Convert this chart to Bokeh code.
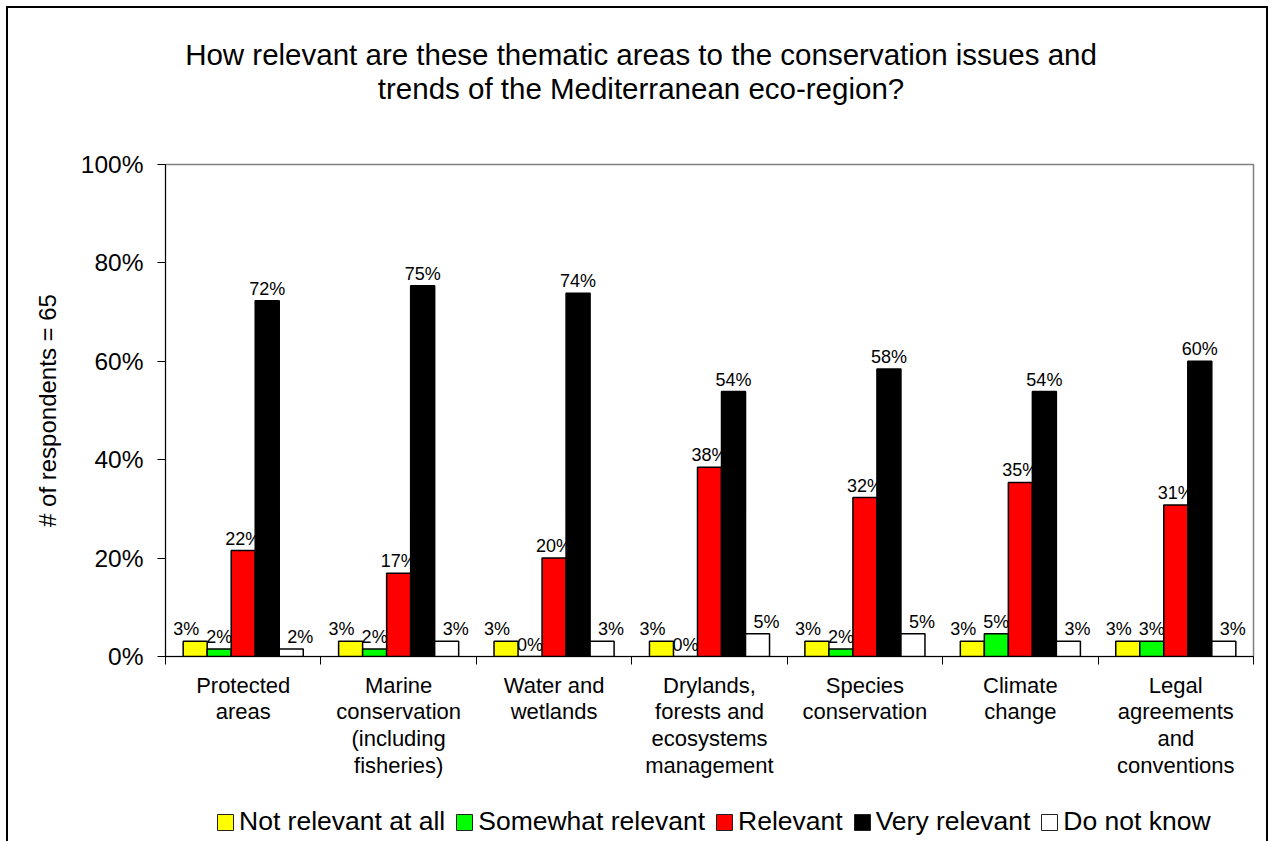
from bokeh.plotting import figure
from bokeh.models import (Range1d, ColumnDataSource, FixedTicker, Legend, LegendItem, Div)
from bokeh.layouts import column
from bokeh.transform import dodge
from bokeh.core.properties import value
from bokeh.embed import file_html
from bokeh.resources import INLINE

# ---------------- data ----------------
categories = [
    "Protected\nareas",
    "Marine\nconservation\n(including\nfisheries)",
    "Water and\nwetlands",
    "Drylands,\nforests and\necosystems\nmanagement",
    "Species\nconservation",
    "Climate\nchange",
    "Legal\nagreements\nand\nconventions",
]
series_names = ["Not relevant at all", "Somewhat relevant", "Relevant",
                "Very relevant", "Do not know"]
not_relevant = [3.08, 3.08, 3.08, 3.08, 3.08, 3.08, 3.08]
somewhat_relevant = [1.54, 1.54, 0.0, 0.0, 1.54, 4.62, 3.08]
relevant = [21.54, 16.92, 20.00, 38.46, 32.31, 35.38, 30.77]
very_relevant = [72.31, 75.38, 73.85, 53.85, 58.46, 53.85, 60.00]
do_not_know = [1.54, 3.08, 3.08, 4.62, 4.62, 3.08, 3.08]

y_ticks = [0, 20, 40, 60, 80, 100]
y_tick_labels = ["0%", "20%", "40%", "60%", "80%", "100%"]
title_lines = ["How relevant are these thematic areas to the conservation issues and",
               "trends of the Mediterranean eco-region?"]
y_axis_title = "# of respondents = 65"

# ---------------- styles ----------------
colors = ["#FFFF00", "#00FF00", "#FF0000", "#000000", "#FFFFFF"]
label_dx = [-9, 0, 0, 0, 9]
bar_w = 0.1545
FONT = "Liberation Sans"
W = 1258
TITLE_H = 130
MAIN_H = 26 + 492 + 130
LEG_H = 833 - TITLE_H - MAIN_H

n_cat = len(categories)
centers = [i + 0.5 for i in range(n_cat)]       # slot centre of each category
bounds = list(range(n_cat + 1))                  # slot boundaries (tick marks)

series = [not_relevant, somewhat_relevant, relevant, very_relevant, do_not_know]
data = {"xc": centers}
for i, vals in enumerate(series):
    data[f"s{i}"] = vals
    data[f"l{i}"] = ["%d%%" % round(v) for v in vals]
src = ColumnDataSource(data)

p = figure(width=W, height=MAIN_H,
           x_range=Range1d(0, n_cat), y_range=Range1d(0, 100),
           output_backend="svg", toolbar_location=None,
           min_border_left=157, min_border_right=13,
           min_border_top=26, min_border_bottom=130,
           background_fill_color="white", border_fill_color="white")
p.outline_line_color = "#808080"
p.outline_line_width = 1.5
p.xgrid.grid_line_color = None
p.ygrid.grid_line_color = None

# y axis
ya = p.yaxis[0]
ya.ticker = FixedTicker(ticks=y_ticks)
ya.major_label_overrides = {t: l for t, l in zip(y_ticks, y_tick_labels)}
ya.major_tick_out = 8
ya.major_tick_in = 0
ya.minor_tick_line_color = None
ya.axis_line_color = "black"
ya.major_tick_line_color = "black"
ya.major_label_text_font = FONT
ya.major_label_text_font_size = "24.5px"
ya.major_label_text_color = "black"
ya.major_label_standoff = 14
ya.axis_label = y_axis_title
ya.axis_label_text_font = FONT
ya.axis_label_text_font_size = "24px"
ya.axis_label_text_font_style = "normal"
ya.axis_label_text_color = "black"
ya.axis_label_standoff = 17

# x axis: names at slot centres, tick marks (minor ticks) at slot boundaries
xa = p.xaxis[0]
xa.ticker = FixedTicker(ticks=centers, minor_ticks=bounds)
xa.major_label_overrides = {c: name for c, name in zip(centers, categories)}
xa.major_tick_line_color = None
xa.major_tick_out = 0
xa.major_tick_in = 0
xa.minor_tick_out = 8
xa.minor_tick_in = 0
xa.minor_tick_line_color = "black"
xa.axis_line_color = "black"
xa.major_label_standoff = 8
xa.major_label_text_font = FONT
xa.major_label_text_font_size = "22px"
xa.major_label_text_line_height = 1.07
xa.major_label_text_color = "black"

# bars and labels
renderers = []
for i in range(len(series)):
    off = (i - 2) * bar_w
    r = p.vbar(x=dodge("xc", off), top=f"s{i}", width=bar_w,
               source=src, fill_color=colors[i], line_color="black", line_width=1.5)
    renderers.append(r)
    p.text(x=dodge("xc", off), y=f"s{i}", text=f"l{i}", source=src,
           text_align="center", text_baseline="alphabetic",
           x_offset=label_dx[i], y_offset=-12,
           text_font=value(FONT), text_font_size="18px", text_color="black")

# legend strip (swatches share the bar fills; their glyphs sit outside the strip's view)
lg = figure(width=W, height=LEG_H, x_range=Range1d(0, 1), y_range=Range1d(0, 1),
            x_axis_location=None, y_axis_location=None, min_border=0,
            output_backend="svg", toolbar_location=None,
            outline_line_color=None, background_fill_color="white",
            border_fill_color="white")
lg.grid.visible = False
leg_renderers = [lg.vbar(x=[5], top=[-5], bottom=[-6], width=0.1, fill_color=c,
                         line_color="#222222", line_width=1) for c in colors]
legend = Legend(items=[LegendItem(label=n, renderers=[r]) for n, r in zip(series_names, leg_renderers)],
                orientation="horizontal", location=(50, LEG_H - 51),
                glyph_width=20, glyph_height=20, label_standoff=4, spacing=9,
                padding=5, margin=0, border_line_color=None, background_fill_alpha=0,
                label_text_font=FONT, label_text_font_size="26.5px",
                label_text_color="black", label_height=20)
lg.add_layout(legend)

title_html = (
    '<div style="width:%dpx; box-sizing:border-box; font-family:\'Liberation Sans\'; '
    'font-size:29.5px; line-height:34px; text-align:center; padding-top:30px; '
    'padding-left:8px; color:black; white-space:nowrap;">' % W
    + "<br>".join(title_lines) + "</div>"
)
title_div = Div(text=title_html, width=W, height=TITLE_H, margin=0)

layout = column(title_div, p, lg, width=W, margin=(8, 8, 0, 8), spacing=0,
                styles={"outline": "2px solid black", "background-color": "white"})

open("out.html", "w").write(file_html(layout, INLINE))
